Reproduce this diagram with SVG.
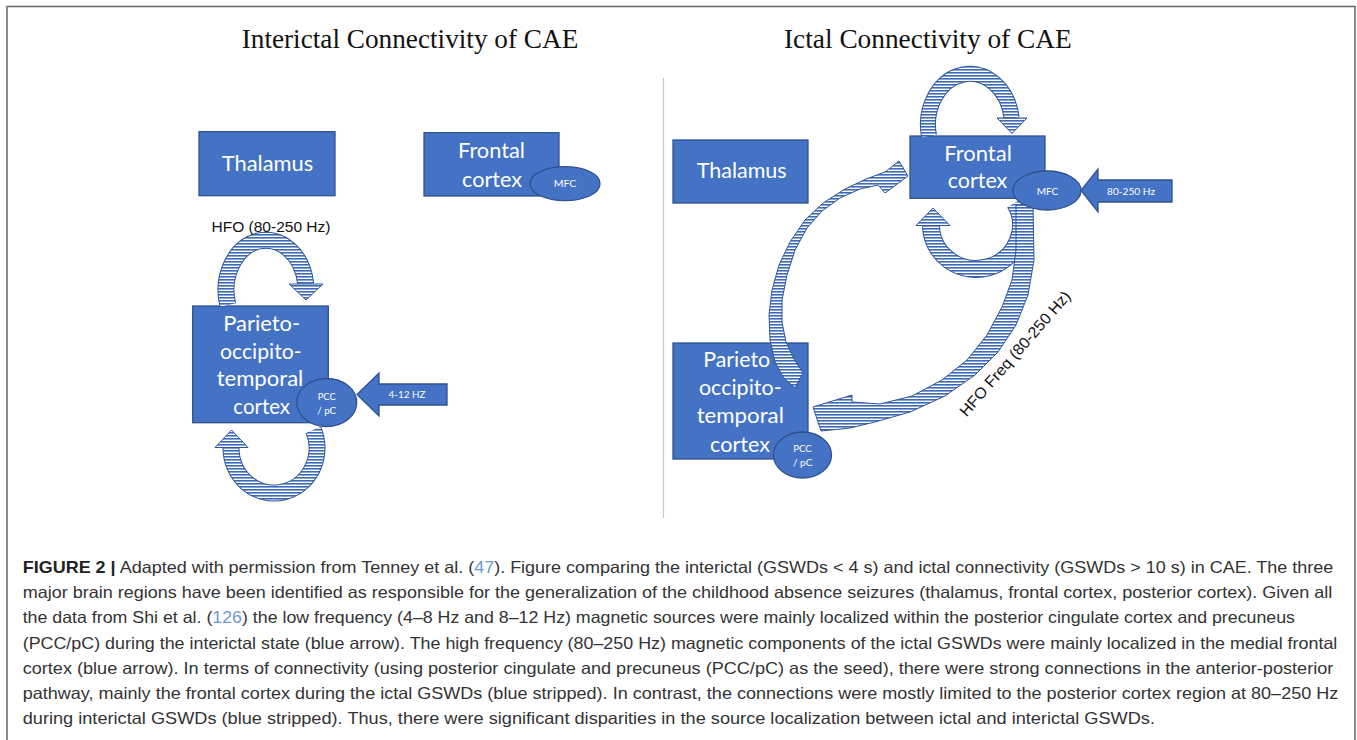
<svg xmlns="http://www.w3.org/2000/svg" width="1357" height="740" viewBox="0 0 1357 740">
  <defs>
    <!-- horizontal blue/white hatching used by the connectivity bands -->
    <pattern id="stripes" patternUnits="userSpaceOnUse" x="0" y="0" width="8" height="3">
      <rect width="8" height="3" fill="#ffffff"/>
      <rect width="8" height="1.6" fill="#3C6AB8"/>
    </pattern>
  </defs>
  <style>
    .box { fill: #4472C4; stroke: #2F528F; stroke-width: 1.3; }
    .lbl { font-family: Lato, "Open Sans", "Liberation Sans", sans-serif; fill: #ffffff; text-anchor: middle; }
    .big { font-size: 20.5px; }
    .small { font-size: 9.5px; }
    .title { font-family: "Liberation Serif", "Times New Roman", serif; font-size: 27.5px; fill: #111111; }
    .note { font-family: "Liberation Sans", Arial, sans-serif; font-size: 15.5px; fill: #111111; }
    .edge { fill: none; stroke: #2F5597; }
    .band { fill: none; stroke: url(#stripes); }
    .head { fill: url(#stripes); stroke: #2F5597; stroke-width: 1; stroke-linejoin: round; }
    .cap { font-family: "Liberation Sans", Arial, sans-serif; font-size: 16.5px; fill: #333333; }
    .ref { fill: #6E9BD0; }
  </style>

  <rect width="1357" height="740" fill="#ffffff"/>
  <!-- outer frame -->
  <rect x="7" y="6.5" width="1348" height="800" fill="none" stroke="#6f6f6f" stroke-width="1.6"/>

  <!-- panel titles and divider -->
  <text class="title" x="241.7" y="47.7" textLength="336.6" lengthAdjust="spacingAndGlyphs">Interictal Connectivity of CAE</text>
  <text class="title" x="784" y="47.7" textLength="287.7" lengthAdjust="spacingAndGlyphs">Ictal Connectivity of CAE</text>
  <line x1="663.5" y1="78" x2="663.5" y2="518" stroke="#c3cad4" stroke-width="1.2"/>

  <!-- ===== interictal panel nodes ===== -->
  <g id="l-thalamus">
    <rect class="box" x="199" y="131.7" width="136" height="64"/>
    <text class="lbl big" x="267.5" y="171" textLength="91.6" lengthAdjust="spacingAndGlyphs">Thalamus</text>
  </g>
  <g id="l-frontal">
    <rect class="box" x="424" y="132.7" width="135" height="63.3"/>
    <text class="lbl big" x="491.5" y="157.7" textLength="67" lengthAdjust="spacingAndGlyphs">Frontal</text>
    <text class="lbl big" x="492" y="186.7" textLength="60" lengthAdjust="spacingAndGlyphs">cortex</text>
  </g>
  <g id="l-parieto">
    <rect class="box" x="192.7" y="306" width="135.6" height="116.7"/>
    <text class="lbl big" x="261.7" y="331" textLength="77" lengthAdjust="spacingAndGlyphs">Parieto-</text>
    <text class="lbl big" x="260.8" y="359" textLength="81.7" lengthAdjust="spacingAndGlyphs">occipito-</text>
    <text class="lbl big" x="260" y="385.5" textLength="86.7" lengthAdjust="spacingAndGlyphs">temporal</text>
    <text class="lbl big" x="261.7" y="414.3" textLength="56.7" lengthAdjust="spacingAndGlyphs">cortex</text>
  </g>

  <!-- ===== ictal panel nodes ===== -->
  <g id="r-thalamus">
    <rect class="box" x="673" y="140" width="135" height="63"/>
    <text class="lbl big" x="741.7" y="178.3" textLength="90" lengthAdjust="spacingAndGlyphs">Thalamus</text>
  </g>
  <g id="r-frontal">
    <rect class="box" x="910" y="136" width="135" height="62.3"/>
    <text class="lbl big" x="978" y="160.7" textLength="67.7" lengthAdjust="spacingAndGlyphs">Frontal</text>
    <text class="lbl big" x="977.5" y="188.3" textLength="59.6" lengthAdjust="spacingAndGlyphs">cortex</text>
  </g>
  <g id="r-parieto">
    <rect class="box" x="673" y="343" width="135" height="116"/>
    <text class="lbl big" x="736.7" y="366.7" textLength="67" lengthAdjust="spacingAndGlyphs">Parieto</text>
    <text class="lbl big" x="740.3" y="395" textLength="82.7" lengthAdjust="spacingAndGlyphs">occipito-</text>
    <text class="lbl big" x="740.3" y="423.3" textLength="87.3" lengthAdjust="spacingAndGlyphs">temporal</text>
    <text class="lbl big" x="740" y="451.7" textLength="60" lengthAdjust="spacingAndGlyphs">cortex</text>
  </g>

  <!-- ===== connectors ===== -->
  <g id="connectors">
    <!-- interictal: loop above the parieto-occipito-temporal cortex -->
    <path class="edge" stroke-width="17" d="M227.8,305 A40,50 0 1 1 305.7,284"/>
    <path class="band" stroke-width="15" d="M227.8,305 A40,50 0 1 1 305.7,284"/>
    <polygon class="head" points="289,284 323,284 306,300"/>

    <!-- interictal: loop below the parieto-occipito-temporal cortex -->
    <path class="edge" stroke-width="17" d="M313.4,430 A43,45 0 1 1 231,448"/>
    <path class="band" stroke-width="15" d="M313.4,430 A43,45 0 1 1 231,448"/>
    <polygon class="head" points="215,447.5 248,447.5 231.5,430"/>

    <!-- ictal: loop above the frontal cortex -->
    <path class="edge" stroke-width="16" d="M929,136 A42,51 0 1 1 1011.6,118"/>
    <path class="band" stroke-width="14" d="M929,136 A42,51 0 1 1 1011.6,118"/>
    <polygon class="head" points="997,118 1027,118 1012,133.5"/>

    <!-- ictal: loop below the frontal cortex -->
    <path class="edge" stroke-width="18" d="M1015,203 A45,44 0 1 1 931,226"/>
    <path class="band" stroke-width="16" d="M1015,203 A45,44 0 1 1 931,226"/>
    <polygon class="head" points="916,225.5 950,225.5 933,208"/>

    <!-- ictal: posterior to frontal arc -->
    <path class="head" d="M795,388 L783,377 L775,362 L770,340 L769,315 L772,290 L779,265 L790,242 L805,220 L823,203 L845,189 L866,179 L885,172 L899,161 L908,176 L885,193 L878,185 L860,189 L840,198 L822,211 L807,228 L795,250 L787,275 L782,300 L782,322 L786,342 L794,359 L803,373 Z"/>

    <!-- ictal: frontal to posterior arc -->
    <path class="head" d="M1016,205 L1033,205 L1034,260 L1028,295 L1016,325 L998,352 L975,375 L945,396 L910,412 L875,422 L850,428 L821,431 L813,407 L852,395 L852,402 L880,404 L912,396 L942,380 L967,360 L987,335 L1002,307 L1012,280 L1016,250 Z"/>
  </g>

  <!-- ===== seed regions and source arrows (drawn above the bands) ===== -->
  <g id="l-mfc">
    <ellipse class="box" cx="565" cy="183.7" rx="35" ry="17"/>
    <text class="lbl small" x="565" y="187" textLength="22.7" lengthAdjust="spacingAndGlyphs">MFC</text>
  </g>
  <g id="l-pcc">
    <ellipse class="box" cx="326.7" cy="402.5" rx="30" ry="24"/>
    <text class="lbl small" x="326.7" y="400" textLength="18" lengthAdjust="spacingAndGlyphs">PCC</text>
    <text class="lbl small" x="326.7" y="414.3" textLength="19" lengthAdjust="spacingAndGlyphs">/ pC</text>
  </g>
  <g id="l-source">
    <polygon class="box" points="357,394.5 379,373 379,384 447,384 447,405 379,405 379,416"/>
    <text class="lbl small" x="407" y="398" textLength="37" lengthAdjust="spacingAndGlyphs">4-12 HZ</text>
  </g>

  <g id="r-mfc">
    <ellipse class="box" cx="1047" cy="190.5" rx="34" ry="19.5"/>
    <text class="lbl small" x="1047.5" y="195" textLength="21.7" lengthAdjust="spacingAndGlyphs">MFC</text>
  </g>
  <g id="r-pcc">
    <ellipse class="box" cx="802.5" cy="455" rx="29" ry="23"/>
    <text class="lbl small" x="802.5" y="452" textLength="18.5" lengthAdjust="spacingAndGlyphs">PCC</text>
    <text class="lbl small" x="802.7" y="466" textLength="19.5" lengthAdjust="spacingAndGlyphs">/ pC</text>
  </g>
  <g id="r-source">
    <polygon class="box" points="1081,190.5 1098,169 1098,180 1172,180 1172,202 1098,202 1098,212"/>
    <text class="lbl small" x="1131" y="195" textLength="48" lengthAdjust="spacingAndGlyphs">80-250 Hz</text>
  </g>

  <!-- band labels -->
  <text class="note" x="271" y="231.7" text-anchor="middle" textLength="119" lengthAdjust="spacingAndGlyphs">HFO (80-250 Hz)</text>
  <text class="note" x="0" y="0" text-anchor="middle" textLength="160" lengthAdjust="spacingAndGlyphs" transform="translate(1019,357) rotate(-49)">HFO Freq (80-250 Hz)</text>

  <!-- figure caption -->
  <g id="caption">
    <text class="cap" x="22.7" y="573" textLength="1310.6" lengthAdjust="spacingAndGlyphs"><tspan font-weight="bold" fill="#222222">FIGURE 2 |</tspan> Adapted with permission from Tenney et al. (<tspan class="ref">47</tspan>). Figure comparing the interictal (GSWDs &lt; 4 s) and ictal connectivity (GSWDs &gt; 10 s) in CAE. The three</text>
    <text class="cap" x="22.7" y="598.2" textLength="1309.6" lengthAdjust="spacingAndGlyphs">major brain regions have been identified as responsible for the generalization of the childhood absence seizures (thalamus, frontal cortex, posterior cortex). Given all</text>
    <text class="cap" x="22.7" y="623.4" textLength="1272.3" lengthAdjust="spacingAndGlyphs">the data from Shi et al. (<tspan class="ref">126</tspan>) the low frequency (4–8 Hz and 8–12 Hz) magnetic sources were mainly localized within the posterior cingulate cortex and precuneus</text>
    <text class="cap" x="22.7" y="648.6" textLength="1314.6" lengthAdjust="spacingAndGlyphs">(PCC/pC) during the interictal state (blue arrow). The high frequency (80–250 Hz) magnetic components of the ictal GSWDs were mainly localized in the medial frontal</text>
    <text class="cap" x="22.7" y="673.8" textLength="1310.6" lengthAdjust="spacingAndGlyphs">cortex (blue arrow). In terms of connectivity (using posterior cingulate and precuneus (PCC/pC) as the seed), there were strong connections in the anterior-posterior</text>
    <text class="cap" x="22.7" y="699" textLength="1315.6" lengthAdjust="spacingAndGlyphs">pathway, mainly the frontal cortex during the ictal GSWDs (blue stripped). In contrast, the connections were mostly limited to the posterior cortex region at 80–250 Hz</text>
    <text class="cap" x="22.7" y="724.2" textLength="1132.3" lengthAdjust="spacingAndGlyphs">during interictal GSWDs (blue stripped). Thus, there were significant disparities in the source localization between ictal and interictal GSWDs.</text>
  </g>
</svg>
